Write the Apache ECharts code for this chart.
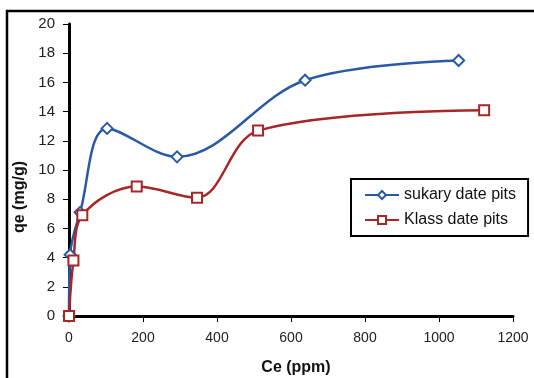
<!DOCTYPE html>
<html><head><meta charset="utf-8">
<script src="https://cdn.jsdelivr.net/npm/echarts@6/dist/echarts.min.js"></script>
<style>html,body{margin:0;padding:0;background:#fff}#c{width:534px;height:378px}</style>
</head><body><div id="c"></div>
<script>
const xTicks = [0, 200, 400, 600, 800, 1000, 1200];
const yTicks = [0, 2, 4, 6, 8, 10, 12, 14, 16, 18, 20];
const sukaryCe = [0, 3, 30, 103, 292, 638, 1053];
const sukaryQe = [0, 4.2, 7.1, 12.85, 10.9, 16.15, 17.5];
const klassCe = [0, 12, 36, 183, 346, 511, 1122];
const klassQe = [0, 3.8, 6.9, 8.87, 8.1, 12.7, 14.1];
const originPoint = [[0, 0]];

const FONT = "'Liberation Sans',sans-serif";
const chart = echarts.init(document.getElementById('c'));
const zip = (a, b) => a.map((v, i) => [v, b[i]]);
chart.setOption({
  animation: false,
  backgroundColor: '#fff',
  grid: {left: 69, right: 21, top: 24, bottom: 62},
  xAxis: {
    type: 'value', min: xTicks[0], max: xTicks[xTicks.length - 1], interval: 200,
    axisLine: {lineStyle: {color: '#000', width: 3}},
    axisTick: {show: true, length: 6, lineStyle: {color: '#000', width: 1}},
    axisLabel: {color: '#222', fontSize: 14, fontFamily: FONT, margin: 15, formatter: v => String(v)},
    splitLine: {show: false}
  },
  yAxis: {
    type: 'value', min: yTicks[0], max: yTicks[yTicks.length - 1], interval: 2,
    axisLine: {show: true, lineStyle: {color: '#000', width: 3}},
    axisTick: {show: true, length: 6, lineStyle: {color: '#000', width: 1}},
    axisLabel: {color: '#222', fontSize: 15, fontFamily: FONT, margin: 14, formatter: v => String(v)},
    splitLine: {show: false}
  },
  legend: {
    orient: 'vertical', left: 351, top: 179, width: 170,
    borderColor: '#000', borderWidth: 2, padding: [8, 12, 8, 13],
    itemWidth: 34, itemHeight: 10, itemGap: 9,
    textStyle: {fontSize: 16, fontFamily: FONT, color: '#111'},
    data: ['sukary date pits', 'Klass date pits']
  },
  series: [
    {name: 'sukary date pits', type: 'line', smooth: 0.35, data: zip(sukaryCe, sukaryQe),
     symbol: 'emptyDiamond', symbolSize: 11, color: '#2a5aa6',
     lineStyle: {width: 2.5, color: '#2a5aa6'}, itemStyle: {borderWidth: 2.5, color: '#2a5aa6'}},
    {name: 'Klass date pits', type: 'line', smooth: 0.35, data: zip(klassCe, klassQe),
     symbol: 'emptyRect', symbolSize: 10, color: '#a82626',
     lineStyle: {width: 2.5, color: '#a82626'}, itemStyle: {borderWidth: 2.5, color: '#a82626'}},
    {name: 'origin', type: 'scatter', data: originPoint,
     symbol: 'path://M0,0 L10,10 M10,0 L0,10', symbolSize: 8,
     itemStyle: {color: 'none', borderColor: '#000', borderWidth: 2}}
  ],
  graphic: [
    {type: 'rect', shape: {x: 7, y: 11, width: 700, height: 500}, silent: true, z: -1,
     style: {fill: 'none', stroke: '#000', lineWidth: 2.5}},
    {type: 'text', x: 20, y: 197, rotation: Math.PI / 2, silent: true,
     style: {text: 'qe (mg/g)', font: "bold 16px " + FONT, fill: '#111', align: 'center', verticalAlign: 'middle'}},
    {type: 'text', x: 296, y: 368, silent: true,
     style: {text: 'Ce (ppm)', font: "bold 16px " + FONT, fill: '#111', align: 'center', verticalAlign: 'middle'}}
  ]
});
</script></body></html>
